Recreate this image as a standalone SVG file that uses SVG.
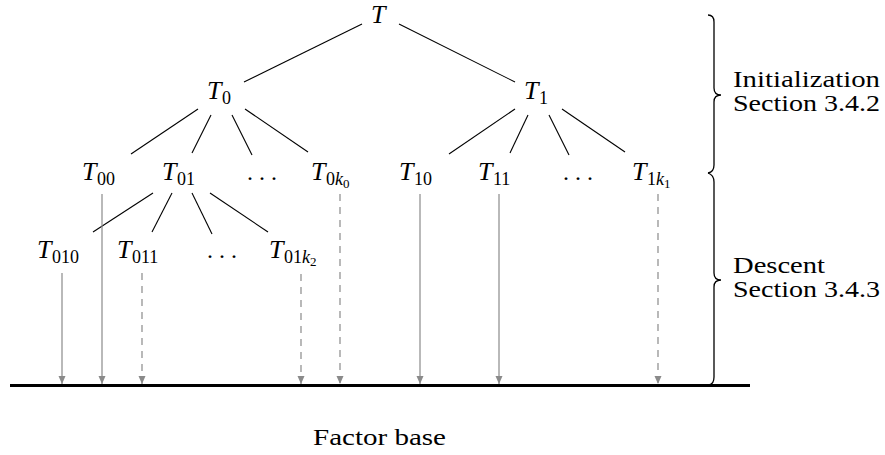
<svg xmlns="http://www.w3.org/2000/svg" width="885" height="455" viewBox="0 0 885 455">
<style>
text{font-family:"Liberation Serif","Times New Roman","DejaVu Serif",serif;fill:#000}
.m{font-style:italic;font-size:26px}
.s{font-style:normal;font-size:18px}
.si{font-style:italic;font-size:18px}
.ss{font-style:normal;font-size:13px}
.t{font-style:normal;font-size:24px}
.e{stroke:#000;stroke-width:1.1;fill:none}
.a{stroke:#8a8a8a;stroke-width:1.2;fill:none;marker-end:url(#ah)}
.d{stroke-dasharray:7 6}
.b{stroke:#000;stroke-width:1.3;fill:none}
</style>
<defs>
<marker id="ah" markerUnits="userSpaceOnUse" markerWidth="8" markerHeight="10" refX="8" refY="3.5" orient="auto">
<path d="M0,0 L8,3.5 L0,7 z" fill="#8a8a8a"/>
</marker>
</defs>
<g id="edges">
<line class="e" x1="362" y1="24" x2="244" y2="82"/>
<line class="e" x1="399" y1="24" x2="515" y2="82"/>
<line class="e" x1="198" y1="109" x2="131" y2="154"/>
<line class="e" x1="211" y1="115" x2="192" y2="153"/>
<line class="e" x1="232" y1="115" x2="252" y2="155"/>
<line class="e" x1="245" y1="109" x2="308" y2="152"/>
<line class="e" x1="515" y1="109" x2="449" y2="154"/>
<line class="e" x1="528" y1="115" x2="510" y2="153"/>
<line class="e" x1="549" y1="115" x2="569" y2="155"/>
<line class="e" x1="562" y1="109" x2="625" y2="152"/>
<line class="e" x1="153" y1="193" x2="93" y2="232"/>
<line class="e" x1="172" y1="193" x2="152" y2="232"/>
<line class="e" x1="192" y1="193" x2="212" y2="234"/>
<line class="e" x1="210" y1="193" x2="268" y2="232"/>
</g>
<g id="arrows">
<line class="a" x1="62" y1="273" x2="62" y2="384"/>
<line class="a" x1="102" y1="194" x2="102" y2="384"/>
<line class="a d" x1="142" y1="273" x2="142" y2="384"/>
<line class="a d" x1="301" y1="274" x2="301" y2="384"/>
<line class="a d" x1="340" y1="194" x2="340" y2="384"/>
<line class="a" x1="420" y1="194" x2="420" y2="384"/>
<line class="a" x1="499" y1="194" x2="499" y2="384"/>
<line class="a d" x1="658" y1="194" x2="658" y2="384"/>
</g>
<g id="base">
<line x1="10" y1="385.5" x2="750" y2="385.5" stroke="#000" stroke-width="3"/>
<text class="t" x="313" y="445" textLength="133" lengthAdjust="spacingAndGlyphs">Factor base</text>
</g>
<g id="n-T"><text class="m" x="371" y="23">T</text></g>
<g id="n-T0"><text class="m" x="207" y="99">T<tspan class="s" x="222" dy="5">0</tspan></text></g>
<g id="n-T1"><text class="m" x="524" y="99">T<tspan class="s" x="539" dy="5">1</tspan></text></g>
<g id="n-T00"><text class="m" x="82" y="180">T<tspan class="s" x="97" dy="5">00</tspan></text></g>
<g id="n-T01"><text class="m" x="162" y="180">T<tspan class="s" x="177" dy="5">01</tspan></text></g>
<g id="n-dots0"><text class="t" x="247" y="180">. . .</text></g>
<g id="n-T0k0"><text class="m" x="311" y="180">T<tspan class="s" x="326" dy="5">0</tspan><tspan class="si" dy="0">k</tspan><tspan class="ss" dy="3">0</tspan></text></g>
<g id="n-T10"><text class="m" x="399" y="180">T<tspan class="s" x="414" dy="5">10</tspan></text></g>
<g id="n-T11"><text class="m" x="478" y="180">T<tspan class="s" x="493" dy="5">11</tspan></text></g>
<g id="n-dots1"><text class="t" x="563" y="180">. . .</text></g>
<g id="n-T1k1"><text class="m" x="632" y="180">T<tspan class="s" x="647" dy="5">1</tspan><tspan class="si" dy="0">k</tspan><tspan class="ss" dy="3">1</tspan></text></g>
<g id="n-T010"><text class="m" x="37" y="258">T<tspan class="s" x="52" dy="5">010</tspan></text></g>
<g id="n-T011"><text class="m" x="117" y="258">T<tspan class="s" x="132" dy="5">011</tspan></text></g>
<g id="n-dots2"><text class="t" x="207" y="258">. . .</text></g>
<g id="n-T01k2"><text class="m" x="269" y="258">T<tspan class="s" x="284" dy="5">01</tspan><tspan class="si" dy="0">k</tspan><tspan class="ss" dy="3">2</tspan></text></g>
<g id="braces">
<path class="b" d="M708,15 Q714,15 714,22 L714,88 Q714,95 721,95 Q714,95 714,102 L714,165 Q714,172 708,173"/>
<path class="b" d="M708,173 Q714,175 714,182 L714,273 Q714,280 721,280 Q714,280 714,287 L714,377 Q714,384 709,385"/>
<text class="t" x="733" y="87" textLength="147" lengthAdjust="spacingAndGlyphs">Initialization</text>
<text class="t" x="733" y="111" textLength="147" lengthAdjust="spacingAndGlyphs">Section 3.4.2</text>
<text class="t" x="733" y="273" textLength="92" lengthAdjust="spacingAndGlyphs">Descent</text>
<text class="t" x="733" y="297" textLength="147" lengthAdjust="spacingAndGlyphs">Section 3.4.3</text>
</g>
</svg>
